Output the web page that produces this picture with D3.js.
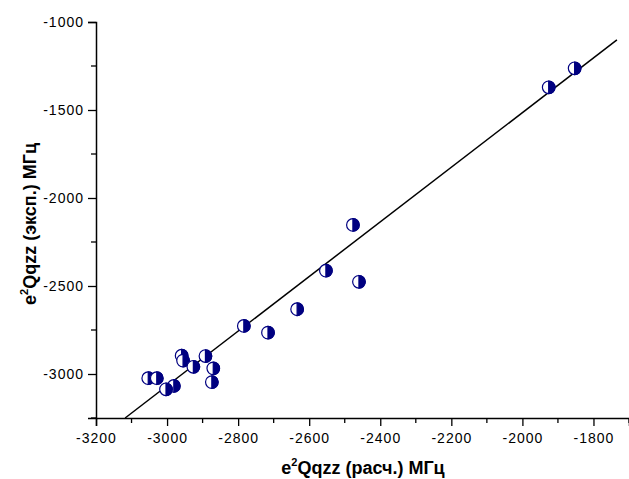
<!DOCTYPE html>
<html><head><meta charset="utf-8">
<script src="https://cdn.jsdelivr.net/npm/d3@7"></script>
<style>body{margin:0;background:#fff}svg{display:block}text{font-family:"Liberation Sans",Arial,sans-serif}</style>
</head><body>
<script>
const calcX = [-1853,-1926,-2477,-2553,-2460,-2634,-2784,-2716,-2892,-2959,-2955,-2926,-2870,-2874,-3053,-3029,-2981,-3003];
const expY  = [-1263,-1371,-2153,-2413,-2476,-2632,-2727,-2765,-2898,-2896,-2924,-2959,-2968,-3046,-3024,-3024,-3068,-3087];
const fitX = [-3118,-1734];
const fitY = [-3250,-1102];
const xTicks = [-3200,-3000,-2800,-2600,-2400,-2200,-2000,-1800];
const yTicks = [-3000,-2500,-2000,-1500,-1000];
const xMinor = [-3100,-2900,-2700,-2500,-2300,-2100,-1900,-1700];
const yMinor = [-3250,-2750,-2250,-1750,-1250];

const W=629,H=479;
const svg=d3.select("body").append("svg").attr("width",W).attr("height",H);
const x=d3.scaleLinear().domain([-3200,-1700]).range([96,629]);
const y=d3.scaleLinear().domain([-3250,-1000]).range([418,22]);
const navy="#000080";

// axes
const xAxis=d3.axisBottom(x).tickValues(xTicks).tickFormat(d=>d).tickSizeOuter(0).tickSize(8).tickPadding(7);
const gx=svg.append("g").attr("transform","translate(0,418)").call(xAxis);
gx.selectAll("line").attr("stroke-width",1.3);
gx.select(".domain").attr("stroke-width",1.5);
gx.selectAll("text").attr("font-size",14).attr("letter-spacing","1px").attr("fill","#000");
gx.selectAll(".minor").data(xMinor).enter().append("line").attr("class","minor")
  .attr("x1",d=>x(d)).attr("x2",d=>x(d)).attr("y1",0).attr("y2",5).attr("stroke","#000").attr("stroke-width",1.3);

const yAxis=d3.axisLeft(y).tickValues(yTicks).tickFormat(d=>d).tickSizeOuter(0).tickSize(8).tickPadding(4);
const gy=svg.append("g").attr("transform","translate(96,0)").call(yAxis);
gy.selectAll("line").attr("stroke-width",1.3);
gy.select(".domain").attr("stroke-width",1.5);
gy.selectAll("text").attr("font-size",14).attr("letter-spacing","1px").attr("fill","#000");
gy.selectAll(".minor").data(yMinor).enter().append("line").attr("class","minor")
  .attr("y1",d=>y(d)).attr("y2",d=>y(d)).attr("x1",0).attr("x2",-5).attr("stroke","#000").attr("stroke-width",1.3);

// fit line
svg.append("line").attr("x1",x(fitX[0])).attr("y1",y(fitY[0])).attr("x2",x(fitX[1])).attr("y2",y(fitY[1]))
  .attr("stroke","#000").attr("stroke-width",1.5);

// points
const r=6.3;
const pts=calcX.map((v,i)=>({x:v,y:expY[i]}));
const g=svg.append("g");
pts.forEach(p=>{
  const cx=x(p.x),cy=y(p.y);
  g.append("circle").attr("cx",cx).attr("cy",cy).attr("r",r).attr("fill","#fff").attr("stroke",navy).attr("stroke-width",1.2);
  g.append("path").attr("d",`M${cx},${cy-r}A${r},${r} 0 0 1 ${cx},${cy+r}Z`).attr("fill",navy).attr("stroke",navy).attr("stroke-width",1.2);
});

// titles
const xt=svg.append("text").attr("x",363).attr("y",474).attr("text-anchor","middle").attr("font-size",18).attr("font-weight","bold");
xt.append("tspan").text("e");
xt.append("tspan").attr("font-size",11).attr("dy",-8).text("2");
xt.append("tspan").attr("dy",8).text("Qqzz (расч.) МГц");
const yt=svg.append("text").attr("transform","translate(36,224) rotate(-90)").attr("text-anchor","middle").attr("font-size",18).attr("font-weight","bold");
yt.append("tspan").text("e");
yt.append("tspan").attr("font-size",11).attr("dy",-8).text("2");
yt.append("tspan").attr("dy",8).text("Qqzz (эксп.) МГц");
</script>
</body></html>
